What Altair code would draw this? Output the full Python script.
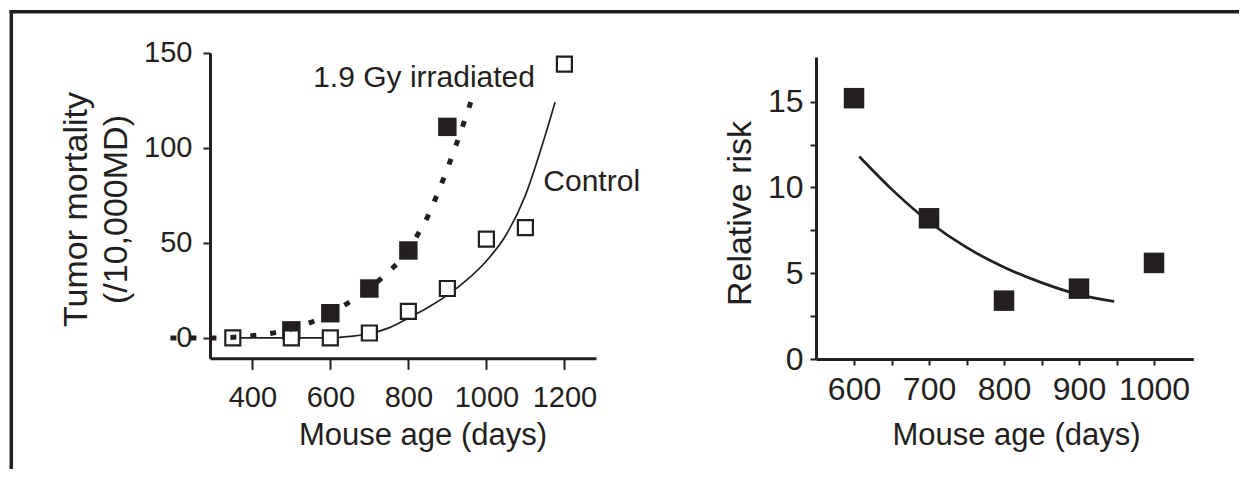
import altair as alt
import pandas as pd

INK = "#231f20"
FONT = "Liberation Sans"

# ---------------- Left panel: tumor mortality ----------------
ctrl_age = [350, 500, 600, 700, 800, 900, 1000, 1100, 1200]
ctrl_mort = [0, 0, 0, 2.6, 14, 26, 52, 58, 144]
irr_age = [500, 600, 700, 800, 900]
irr_mort = [4, 13, 26, 46, 111]
ctrl_fit_age = [350, 600, 650, 700, 750, 800, 850, 900, 950, 1000, 1050, 1100, 1150, 1176]
ctrl_fit_val = [0, 0, 0.8, 2.2, 5.3, 10.5, 16, 22.5, 30.5, 40.5, 54, 75, 106, 124]
irr_fit_age = [190, 300, 400, 450, 500, 550, 600, 650, 700, 750, 800, 820, 850, 875, 900, 925, 960]
irr_fit_val = [0, 0, 1.2, 2.5, 4.8, 8.2, 13, 19, 26, 35, 46, 53, 64, 76, 89, 103, 124]
left_x_ticks = [400, 600, 800, 1000, 1200]
left_y_ticks = [0, 50, 100, 150]
note_text = ["1.9 Gy irradiated", "Control"]
note_age = [556, 1146]
note_val = [131.8, 77.3]

# ---------------- Right panel: relative risk ----------------
rr_age = [600, 700, 800, 900, 1000]
rr_val = [15.2, 8.2, 3.4, 4.1, 5.6]
rr_fit_age = [607, 650, 700, 750, 800, 850, 900, 947]
rr_fit_val = [11.8, 9.9, 8.0, 6.5, 5.35, 4.45, 3.75, 3.35]
right_x_ticks = [600, 650, 700, 750, 800, 850, 900, 950, 1000]
right_y_ticks = [0, 2.5, 5, 7.5, 10, 12.5, 15]

W, H = 1231, 461

L_X = alt.Scale(domain=[291.5, 1281], range=[202, 588], nice=False, zero=False)
L_Y = alt.Scale(domain=[-10.7, 150], range=[350.3, 44.7], nice=False, zero=False)
R_X = alt.Scale(domain=[549.3, 1052.4], range=[808, 1185.3], nice=False, zero=False)
R_Y = alt.Scale(domain=[0, 17.6], range=[351, 49], nice=False, zero=False)

common = dict(grid=False, domainColor=INK, domainWidth=3, tickColor=INK, tickWidth=2,
              labelColor=INK, labelFont=FONT, labelOverlap=False, labelFlush=False,
              labelBound=False, titleColor=INK, titleFont=FONT, titleFontWeight="normal",
              format="d")

lx_axis = alt.Axis(orient="bottom", offset=-110.7, values=left_x_ticks, tickSize=11,
                   labelFontSize=29, labelPadding=14, title="Mouse age (days)",
                   titleFontSize=31, titleX=414.5, titleY=85.7, titleAlign="center",
                   titleBaseline="alphabetic", **common)
ly_axis = alt.Axis(orient="left", offset=-202, values=left_y_ticks, tickSize=7,
                   labelFontSize=29, labelPadding=11,
                   title=["Tumor mortality", "(/10,000MD)"], titleFontSize=34,
                   titleLineHeight=40, titleAngle=270, titleX=-134, titleY=201,
                   titleAlign="center", titleBaseline="middle", **common)
rx_axis = alt.Axis(orient="bottom", offset=-110, values=right_x_ticks, tickSize=6,
                   labelFontSize=32, labelPadding=9,
                   labelExpr="datum.value % 100 == 0 ? datum.label : ''",
                   title="Mouse age (days)", titleFontSize=31, titleX=1008, titleY=85,
                   titleAlign="center", titleBaseline="alphabetic", **common)
ry_axis = alt.Axis(orient="left", offset=-808, values=right_y_ticks, tickSize=6,
                   labelFontSize=32, labelPadding=7,
                   labelExpr="datum.value % 5 == 0 ? datum.label : ''",
                   title="Relative risk", titleFontSize=34, titleAngle=270,
                   titleX=-76, titleY=205, titleAlign="center", titleBaseline="middle",
                   **common)

ctrl_df = pd.DataFrame({"age": ctrl_age, "val": ctrl_mort})
irr_df = pd.DataFrame({"age": irr_age, "val": irr_mort})
ctrl_fit_df = pd.DataFrame({"age": ctrl_fit_age, "val": ctrl_fit_val})
irr_fit_df = pd.DataFrame({"age": irr_fit_age, "val": irr_fit_val})
note_df = pd.DataFrame({"age": note_age, "val": note_val, "label": note_text})
rr_df = pd.DataFrame({"age": rr_age, "val": rr_val})
rr_fit_df = pd.DataFrame({"age": rr_fit_age, "val": rr_fit_val})


def lenc(ch):
    return ch.encode(
        x=alt.X("age:Q", scale=L_X, axis=lx_axis),
        y=alt.Y("val:Q", scale=L_Y, axis=ly_axis),
    )


def renc(ch):
    return ch.encode(
        x=alt.X("age:Q", scale=R_X, axis=rx_axis),
        y=alt.Y("val:Q", scale=R_Y, axis=ry_axis),
    )


ctrl_line = lenc(alt.Chart(ctrl_fit_df).mark_line(color=INK, strokeWidth=1.7, interpolate="monotone"))
irr_pts = lenc(alt.Chart(irr_df).mark_square(size=340, color=INK, opacity=1))
ctrl_pts = lenc(alt.Chart(ctrl_df).mark_point(shape="square", filled=True, fill="white",
                                               stroke=INK, strokeWidth=2.2, size=225, opacity=1))
irr_line = lenc(alt.Chart(irr_fit_df).mark_line(color=INK, strokeWidth=5, strokeDash=[6, 14],
                                                 strokeCap="butt", interpolate="monotone"))
notes = lenc(alt.Chart(note_df).mark_text(align="left", baseline="alphabetic", fontSize=30,
                                          font=FONT, color=INK)).encode(text="label:N")

left = alt.layer(ctrl_line, irr_pts, ctrl_pts, irr_line, notes)

rr_line = renc(alt.Chart(rr_fit_df).mark_line(color=INK, strokeWidth=2.7, interpolate="monotone"))
rr_pts = renc(alt.Chart(rr_df).mark_square(size=420, color=INK, opacity=1))
right = alt.layer(rr_line, rr_pts)

one = pd.DataFrame({"k": [0]})
frame_top = alt.Chart(one).mark_rule(color=INK, strokeWidth=3.5).encode(
    x=alt.value(1.5), x2=alt.value(W), y=alt.value(3.7))
frame_left = alt.Chart(one).mark_rule(color=INK, strokeWidth=3.5).encode(
    x=alt.value(3.3), y=alt.value(2), y2=alt.value(H))
frame = alt.layer(frame_top, frame_left)

chart = (
    alt.layer(frame, left, right)
    .resolve_scale(x="independent", y="independent")
    .properties(width=W, height=H, padding=0,
                autosize=alt.AutoSizeParams(type="none"))
    .configure_view(stroke=None)
)

chart.save("out.html", embed_options={"renderer": "svg", "actions": False})
